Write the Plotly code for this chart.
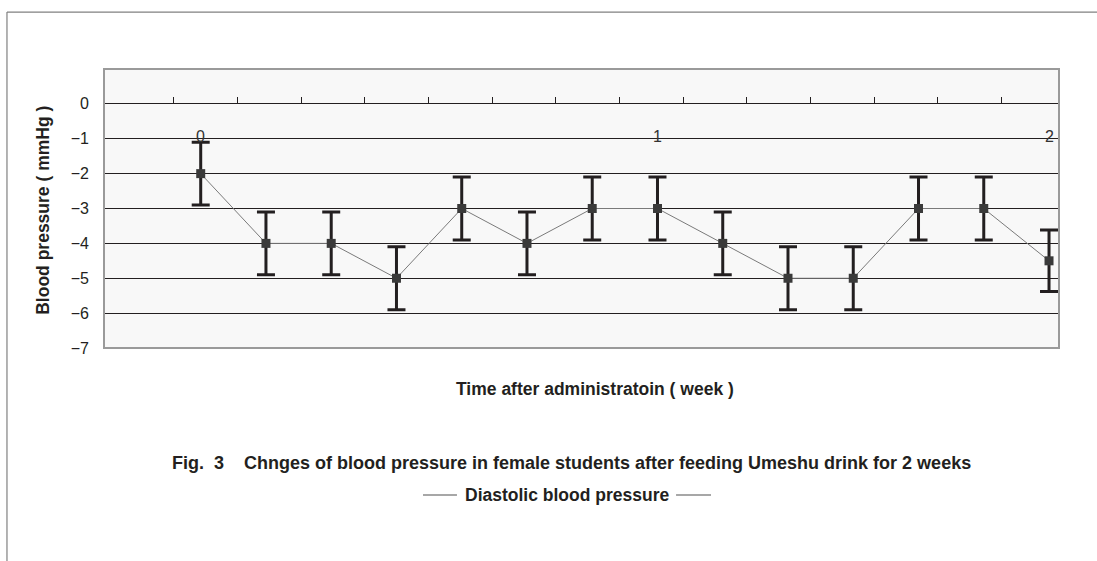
import plotly.graph_objects as go

# ---- data ----
point_index = [0, 1, 2, 3, 4, 5, 6, 7, 8, 9, 10, 11, 12, 13]
diastolic = [-2, -4, -4, -5, -3, -4, -3, -3, -4, -5, -5, -3, -3, -4.5]
diastolic_err = [0.9, 0.9, 0.9, 0.9, 0.9, 0.9, 0.9, 0.9, 0.9, 0.9, 0.9, 0.9, 0.9, 0.88]
week_label_pos = [0, 7, 13]
week_labels = ["0", "1", "2"]
y_ticks = [0, -1, -2, -3, -4, -5, -6, -7]
axis_ticks = [1, 2, 3, 4, 5, 6, 7, 8, 9, 10, 11, 12, 13, 14]

INK = "#231f20"
FONT = "Liberation Sans"
TSIZE = 17.5

fig = go.Figure()
fig.add_trace(go.Scatter(
    x=point_index, y=diastolic,
    mode="lines+markers",
    line=dict(color="#7a7a7a", width=1),
    marker=dict(symbol="square", size=9, color="#3a3a3a"),
    error_y=dict(type="data", array=diastolic_err, visible=True,
                 color=INK, thickness=3, width=9),
    showlegend=False,
    name="Diastolic blood pressure",
))
# dummy trace to activate x2 axis
fig.add_trace(go.Scatter(x=[None], y=[None], xaxis="x2", showlegend=False, hoverinfo="skip"))

for xv, lab in zip(week_label_pos, week_labels):
    fig.add_annotation(x=xv, y=-0.93, text=lab, showarrow=False,
                       xanchor="center", yanchor="middle",
                       font=dict(family=FONT, size=16, color="#333333"),
                       xref="x", yref="y")

ann_font = dict(family=FONT, size=TSIZE, color=INK, weight="bold")
# Axis titles and caption
fig.add_annotation(x=-0.064, y=0.495, xref="paper", yref="paper", textangle=-90,
                   xanchor="center", yanchor="middle",
                   text="Blood pressure ( mmHg )", showarrow=False, font=ann_font)
fig.add_annotation(x=0.514, y=-0.147, xref="paper", yref="paper",
                   xanchor="center", yanchor="middle",
                   text="Time after administratoin ( week )", showarrow=False, font=ann_font)
fig.add_annotation(x=0.49, y=-0.412, xref="paper", yref="paper",
                   xanchor="center", yanchor="middle",
                   text="Fig.  3    Chnges of blood pressure in female students after feeding Umeshu drink for 2 weeks",
                   showarrow=False, font=dict(family=FONT, size=18, color=INK, weight="bold"))
fig.add_annotation(x=0.4848, y=-0.527, xref="paper", yref="paper",
                   xanchor="center", yanchor="middle",
                   text="Diastolic blood pressure", showarrow=False, font=ann_font)

# legend line samples
for x0, x1 in [(0.334, 0.3696), (0.599, 0.6356)]:
    fig.add_shape(type="line", xref="paper", yref="paper", x0=x0, x1=x1,
                  y0=-0.527, y1=-0.527, line=dict(color="#8a8a8a", width=1.5))

# plot border
fig.add_shape(type="rect", xref="paper", yref="paper", x0=0, x1=1, y0=0, y1=1,
              line=dict(color="#9a9a9a", width=2), layer="above")
# outer frame (top & left)
fig.add_shape(type="line", xref="paper", yref="paper", x0=-0.1016, x1=1.06,
              y0=1.204, y1=1.204, line=dict(color="#808080", width=1.2))
fig.add_shape(type="line", xref="paper", yref="paper", x0=-0.1016, x1=-0.1016,
              y0=1.204, y1=-0.8, line=dict(color="#808080", width=1.2))

fig.update_layout(
    width=1097, height=561,
    margin=dict(l=104, r=38, t=69, b=213),
    paper_bgcolor="white",
    plot_bgcolor="#f8f8f8",
    xaxis=dict(range=[-1.482, 13.153], showgrid=False, zeroline=False,
               showticklabels=False, ticks="", showline=False),
    xaxis2=dict(range=[-0.094, 14.9], overlaying="x", anchor="free", position=0.877,
                side="bottom", tickvals=axis_ticks, ticks="inside", ticklen=6,
                tickwidth=1, tickcolor=INK, showticklabels=False, showgrid=False,
                zeroline=False, showline=False),
    yaxis=dict(range=[-7, 1], tickvals=y_ticks, showgrid=True, gridcolor=INK,
               gridwidth=1, zeroline=False, ticks="", ticklabelstandoff=14,
               tickfont=dict(family=FONT, size=16, color=INK), showline=False),
    hovermode=False,
)

fig.write_html("out.html", config={"displayModeBar": False},
               post_script="document.body.style.margin='0';")
